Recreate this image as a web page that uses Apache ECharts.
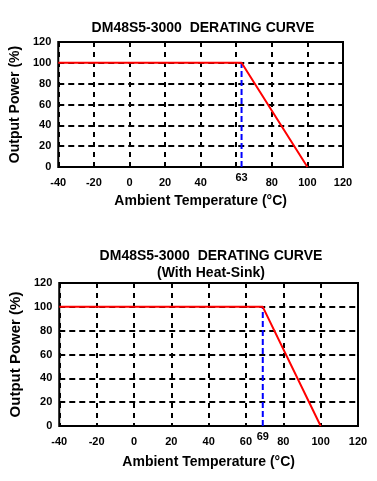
<!DOCTYPE html>
<html>
<head>
    <meta charset="utf-8" />
    <title>DM48S5-3000 Derating Curve</title>
    <script src="https://cdn.jsdelivr.net/npm/echarts@6/dist/echarts.min.js"></script>
    <style type="text/css">
        html, body {
            margin: 0;
            padding: 0;
            background: #fff;
        }
        #chart {
            width: 377px;
            height: 481px;
        }
    </style>
</head>
<body>
    <div id="chart"></div>
    <script type="text/javascript">
        // data
        var xTicks = [-40, -20, 0, 20, 40, 60, 80, 100, 120];
        var yTicks = [0, 20, 40, 60, 80, 100, 120];
        var curveTop = [[-40, 100], [63, 100], [100, 0]];
        var markerTop = [[63, 0], [63, 100]];
        var curveBottom = [[-40, 100], [69, 100], [100, 0]];
        var markerBottom = [[69, 0], [69, 100]];

        var FONT = 'Liberation Sans, Arial, sans-serif';

        var makeX = function (idx, hide60, gap) {
            return {
                type: 'value', gridIndex: idx,
                min: xTicks[0], max: xTicks[xTicks.length - 1], interval: 20,
                name: 'Ambient Temperature (°C)', nameLocation: 'middle', nameGap: gap,
                nameTextStyle: { fontFamily: FONT, fontWeight: 'bold', fontSize: 14, color: '#000' },
                axisLine: { show: false },
                axisTick: { show: false },
                axisLabel: {
                    margin: 10, fontFamily: FONT, fontWeight: 'bold', fontSize: 11, color: '#000',
                    formatter: function (v) { return (hide60 && v == 60) ? '' : v; }
                },
                splitLine: { show: true, lineStyle: { color: '#000', width: 2, type: [5, 5] } }
            };
        };
        var makeY = function (idx, nameSize) {
            return {
                type: 'value', gridIndex: idx,
                min: yTicks[0], max: yTicks[yTicks.length - 1], interval: 20,
                name: 'Output Power (%)', nameLocation: 'middle', nameGap: 30,
                nameTextStyle: { fontFamily: FONT, fontWeight: 'bold', fontSize: nameSize, color: '#000' },
                axisLine: { show: false },
                axisTick: { show: false },
                axisLabel: { margin: 7, fontFamily: FONT, fontWeight: 'bold', fontSize: 11, color: '#000' },
                splitLine: { show: true, lineStyle: { color: '#000', width: 2, type: [6, 4] } }
            };
        };
        var markerSeries = function (idx, data) {
            var items = data.map(function (p, i) {
                var item = { value: p };
                if (i == 0) {
                    item.label = {
                        show: true, position: 'bottom', distance: 5,
                        fontFamily: FONT, fontWeight: 'bold', fontSize: 11, color: '#000',
                        formatter: function (d) { return d.value[0]; }
                    };
                }
                return item;
            });
            return {
                type: 'line', xAxisIndex: idx, yAxisIndex: idx, data: items,
                symbol: 'circle', symbolSize: 0, showSymbol: true, silent: true, z: 3,
                lineStyle: { color: '#0000ff', width: 2, type: [6, 3] }
            };
        };
        var curveSeries = function (idx, data) {
            return {
                type: 'line', xAxisIndex: idx, yAxisIndex: idx, data: data,
                symbol: 'none', silent: true, z: 4,
                lineStyle: { color: '#ff0000', width: 2 }
            };
        };

        var option = {
            animation: false,
            backgroundColor: '#fff',
            title: [
                {
                    text: 'DM48S5-3000  DERATING CURVE', left: 198, top: 16, textAlign: 'center',
                    textStyle: { fontFamily: FONT, fontWeight: 'bold', fontSize: 14, color: '#000' }
                },
                {
                    text: 'DM48S5-3000  DERATING CURVE\n(With Heat-Sink)', left: 206, top: 243, textAlign: 'center',
                    textStyle: { fontFamily: FONT, fontWeight: 'bold', fontSize: 14, lineHeight: 17, color: '#000' }
                }
            ],
            grid: [
                { left: 54, top: 42, width: 289, height: 125, show: true, borderColor: '#000', borderWidth: 2 },
                { left: 54, top: 283, width: 304, height: 143, show: true, borderColor: '#000', borderWidth: 2 }
            ],
            xAxis: [makeX(0, true, 27), makeX(1, false, 29)],
            yAxis: [makeY(0, 14), makeY(1, 15)],
            series: [
                markerSeries(0, markerTop),
                curveSeries(0, curveTop),
                markerSeries(1, markerBottom),
                curveSeries(1, curveBottom)
            ]
        };

        var myChart = echarts.init(document.getElementById('chart'), null, { renderer: 'canvas' });
        myChart.setOption(option);
    </script>
</body>
</html>
